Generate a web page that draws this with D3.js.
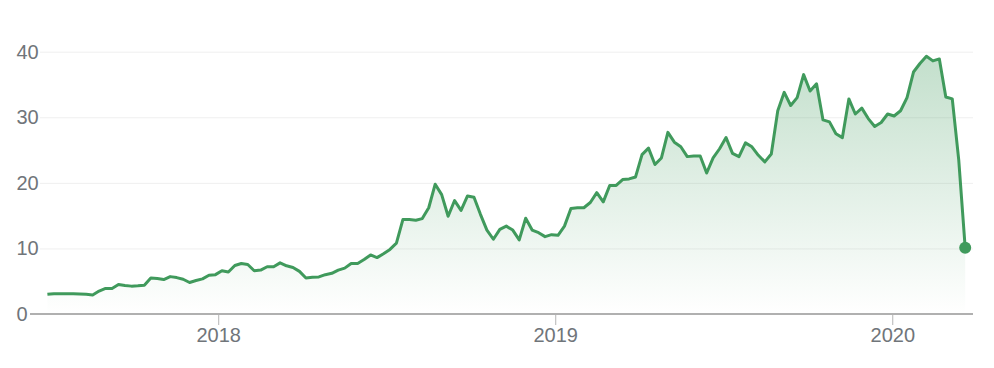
<!DOCTYPE html>
<html>
<head>
<meta charset="utf-8">
<script src="https://cdn.jsdelivr.net/npm/d3@7"></script>
<style>
  body { margin: 0; background: #fff; }
  svg { display: block; font-family: "Liberation Sans", Arial, sans-serif; }
</style>
</head>
<body>
<svg width="994" height="368"></svg>
<script>
// weekly closes, first week ends 2017-06-30, last 2020-03-20
const firstWeek = "2017-06-30";
const closes = [
  3.0, 3.1, 3.1, 3.1, 3.1, 3.05, 3.0, 2.9, 3.5, 3.9,
  3.9, 4.5, 4.35, 4.25, 4.3, 4.4, 5.5, 5.4, 5.25, 5.7,
  5.55, 5.3, 4.8, 5.1, 5.35, 5.9, 6.0, 6.6, 6.4, 7.4,
  7.7, 7.55, 6.6, 6.7, 7.2, 7.2, 7.8, 7.35, 7.1, 6.5,
  5.5, 5.6, 5.65, 6.0, 6.2, 6.7, 7.0, 7.7, 7.7, 8.3,
  9.0, 8.6, 9.2, 9.85, 10.8, 14.4, 14.4, 14.3, 14.55, 16.2,
  19.8, 18.2, 14.9, 17.3, 15.8, 18.0, 17.8, 15.2, 12.8, 11.4,
  12.9, 13.4, 12.8, 11.3, 14.6, 12.8, 12.4, 11.8, 12.1, 12.0,
  13.4, 16.1, 16.2, 16.2, 17.0, 18.5, 17.1, 19.6, 19.6, 20.5,
  20.6, 20.9, 24.3, 25.3, 22.8, 23.8, 27.7, 26.2, 25.5, 24.0,
  24.1, 24.1, 21.5, 23.8, 25.2, 26.9, 24.5, 24.0, 26.1, 25.5,
  24.2, 23.2, 24.4, 31.0, 33.8, 31.8, 33.0, 36.5, 34.0, 35.1,
  29.6, 29.3, 27.5, 26.9, 32.8, 30.5, 31.4, 29.8, 28.6, 29.2,
  30.5, 30.2, 31.0, 33.0, 36.9, 38.2, 39.3, 38.6, 38.9, 33.1,
  32.8, 23.5, 10.1
];
const yTicks = [0, 10, 20, 30, 40];
const yearTicks = ["2018-01-01", "2019-01-01", "2020-01-01"];

const svg = d3.select("svg");
const green = "#409a5c";
const textGray = "#70757a";

const parse = d3.timeParse("%Y-%m-%d");
const start = parse(firstWeek);
const data = closes.map((v, i) => ({ date: d3.timeDay.offset(start, i * 7), value: v }));

const x = d3.scaleTime()
  .domain([start, data[data.length - 1].date])
  .range([47.4, 965.2]);
const y = d3.scaleLinear()
  .domain([0, 40])
  .range([314, 51.7]);

// gridlines + y labels
const yAxis = svg.append("g")
  .attr("transform", "translate(40,0)")
  .call(d3.axisLeft(y).tickValues(yTicks).tickSize(-933).tickFormat(d3.format("d")));
yAxis.select(".domain").remove();
yAxis.selectAll(".tick line").attr("stroke", "#efefef").attr("stroke-width", 1);
yAxis.selectAll(".tick text")
  .attr("x", -23.5)
  .attr("text-anchor", "start")
  .attr("fill", textGray)
  .style("font-size", "20px");

// gradient under the line
const grad = svg.append("defs").append("linearGradient")
  .attr("id", "fade")
  .attr("gradientUnits", "userSpaceOnUse")
  .attr("x1", 0).attr("x2", 0)
  .attr("y1", y(40)).attr("y2", y(0));
grad.append("stop").attr("offset", "0%").attr("stop-color", green).attr("stop-opacity", 0.32);
grad.append("stop").attr("offset", "100%").attr("stop-color", green).attr("stop-opacity", 0);

const area = d3.area()
  .x(d => x(d.date))
  .y0(y(0))
  .y1(d => y(d.value));
svg.append("path")
  .attr("d", area(data))
  .attr("fill", "url(#fade)");

// x axis
const xAxis = svg.append("g")
  .attr("transform", "translate(0,314)")
  .call(d3.axisBottom(x)
    .tickValues(yearTicks.map(parse))
    .tickSize(11)
    .tickPadding(3)
    .tickFormat(d3.timeFormat("%Y")));
xAxis.select(".domain").remove();
xAxis.selectAll(".tick line").attr("stroke", "#b5b5b5");
xAxis.selectAll(".tick text")
  .attr("fill", textGray)
  .style("font-size", "20px");

svg.append("line")
  .attr("x1", 30).attr("x2", 973)
  .attr("y1", 314).attr("y2", 314)
  .attr("stroke", "#b0b0b0")
  .attr("stroke-width", 2);

const line = d3.line()
  .x(d => x(d.date))
  .y(d => y(d.value));
svg.append("path")
  .attr("d", line(data))
  .attr("fill", "none")
  .attr("stroke", green)
  .attr("stroke-width", 3)
  .attr("stroke-linejoin", "round");

// last point marker
const last = data[data.length - 1];
svg.append("circle")
  .attr("cx", x(last.date))
  .attr("cy", y(last.value))
  .attr("r", 6)
  .attr("fill", green);
</script>
</body>
</html>
